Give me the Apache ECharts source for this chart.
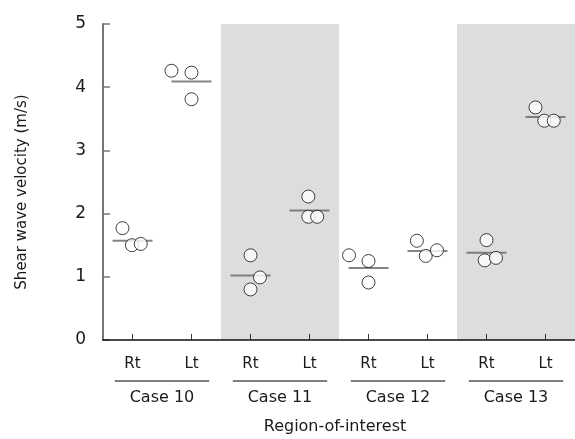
<!DOCTYPE html>
<html>
<head>
<meta charset="utf-8">
<script src="https://cdn.jsdelivr.net/npm/echarts@6/dist/echarts.min.js"></script>
<style>
  html, body { margin: 0; padding: 0; background: #fff; }
  #chart { width: 575px; height: 439px; }
</style>
</head>
<body>
<div id="chart"></div>
<script>
// ---- Data ----
var sideLabels = ['Rt', 'Lt', 'Rt', 'Lt', 'Rt', 'Lt', 'Rt', 'Lt'];
var caseLabels = ['Case 10', 'Case 11', 'Case 12', 'Case 13'];
var yTicks = [0, 1, 2, 3, 4, 5];

// shear wave velocity (m/s), three measurements per region
var velocities = [
  [1.77, 1.50, 1.52],  // Case 10 Rt
  [4.26, 4.23, 3.81],  // Case 10 Lt
  [1.34, 0.99, 0.80],  // Case 11 Rt
  [2.27, 1.95, 1.95],  // Case 11 Lt
  [1.34, 1.25, 0.91],  // Case 12 Rt
  [1.57, 1.33, 1.42],  // Case 12 Lt
  [1.58, 1.26, 1.30],  // Case 13 Rt
  [3.68, 3.47, 3.47]   // Case 13 Lt
];
// horizontal jitter of each dot (in category units)
var jitter = [
  [-0.17, -0.01, 0.14],
  [-0.34, 0.00, 0.00],
  [0.00, 0.16, 0.00],
  [-0.02, -0.02, 0.13],
  [-0.33, 0.00, 0.00],
  [-0.18, -0.03, 0.16],
  [0.00, -0.03, 0.16],
  [-0.17, -0.02, 0.14]
];
// mean line of each region
var means = [1.57, 4.09, 1.02, 2.05, 1.14, 1.41, 1.38, 3.53];

// ---- Build series data ----
var dotData = [];
velocities.forEach(function (vals, i) {
  vals.forEach(function (v, k) { dotData.push([i + jitter[i][k], v]); });
});
var meanData = means.map(function (m, i) { return [i, m]; });

var FONT = 'DejaVu Sans';
var TXT = '#1a1a1a';

var chart = echarts.init(document.getElementById('chart'), null, { renderer: 'canvas' });
var option = {
  animation: false,
  backgroundColor: '#ffffff',
  textStyle: { fontFamily: FONT, color: TXT },
  grid: { left: 103, right: -4, top: 24, bottom: 99, containLabel: false },
  xAxis: [
    {
      type: 'category',
      data: sideLabels,
      position: 'bottom',
      boundaryGap: true,
      axisLine: { show: true, onZero: false, lineStyle: { color: '#111', width: 1.5 } },
      axisTick: { show: true, inside: true, length: 6, alignWithLabel: true, lineStyle: { color: '#333', width: 1 } },
      axisLabel: { fontFamily: FONT, fontSize: 15, color: TXT, margin: 17 },
      splitLine: { show: false },
      z: 3
    },
    {
      type: 'category',
      data: caseLabels,
      position: 'bottom',
      boundaryGap: true,
      axisLine: { show: false, onZero: false },
      axisTick: { show: false },
      axisLabel: { fontFamily: FONT, fontSize: 16, color: TXT, margin: 50 },
      splitLine: { show: false },
      splitArea: { show: true, areaStyle: { color: ['rgba(0,0,0,0)', '#dcdddd'] } }
    },
    {
      type: 'value',
      min: -0.5,
      max: 7.5,
      show: false,
      axisLine: { onZero: false }
    }
  ],
  yAxis: {
    type: 'value',
    min: yTicks[0],
    max: yTicks[yTicks.length - 1],
    interval: 1,
    axisLine: { show: true, onZero: false, lineStyle: { color: '#777', width: 2 } },
    axisTick: { show: true, inside: true, length: 7, lineStyle: { color: '#777', width: 1.5 } },
    axisLabel: { fontFamily: FONT, fontSize: 17, color: TXT, margin: 17 },
    splitLine: { show: false }
  },
  series: [
    {
      name: 'mean',
      type: 'scatter',
      xAxisIndex: 2,
      data: meanData,
      symbol: 'rect',
      symbolSize: [40, 2],
      itemStyle: { color: '#666' },
      z: 4
    },
    {
      name: 'velocity',
      type: 'scatter',
      xAxisIndex: 2,
      data: dotData,
      symbol: 'circle',
      symbolSize: 13,
      itemStyle: { color: '#ffffff', borderColor: '#111', borderWidth: 1 },
      z: 5
    }
  ]
};
chart.setOption(option);

// ---- Group underlines, axis titles (positioned through the axes) ----
var graphics = [];
caseLabels.forEach(function (c, i) {
  var x0 = chart.convertToPixel({ xAxisIndex: 2 }, 2 * i - 0.3);
  var x1 = chart.convertToPixel({ xAxisIndex: 2 }, 2 * i + 1.3);
  var y0 = chart.convertToPixel({ yAxisIndex: 0 }, 0);
  graphics.push({
    type: 'line',
    shape: { x1: x0, y1: y0 + 41, x2: x1, y2: y0 + 41 },
    style: { stroke: '#555', lineWidth: 1.5 },
    silent: true
  });
});
var xMid = (chart.convertToPixel({ xAxisIndex: 2 }, -0.5) + chart.convertToPixel({ xAxisIndex: 2 }, 7.5)) / 2;
var yZero = chart.convertToPixel({ yAxisIndex: 0 }, 0);
graphics.push({
  type: 'text',
  x: xMid - 4,
  y: yZero + 87,
  style: { text: 'Region-of-interest', font: '16px "DejaVu Sans"', fill: TXT, textAlign: 'center', textVerticalAlign: 'middle' },
  silent: true
});
var yMid = (chart.convertToPixel({ yAxisIndex: 0 }, 0) + chart.convertToPixel({ yAxisIndex: 0 }, 5)) / 2;
graphics.push({
  type: 'text',
  x: 22,
  y: yMid + 10,
  rotation: Math.PI / 2,
  style: { text: 'Shear wave velocity (m/s)', font: '15px "DejaVu Sans"', fill: TXT, textAlign: 'center', textVerticalAlign: 'middle' },
  silent: true
});
chart.setOption({ graphic: graphics });
</script>
</body>
</html>
